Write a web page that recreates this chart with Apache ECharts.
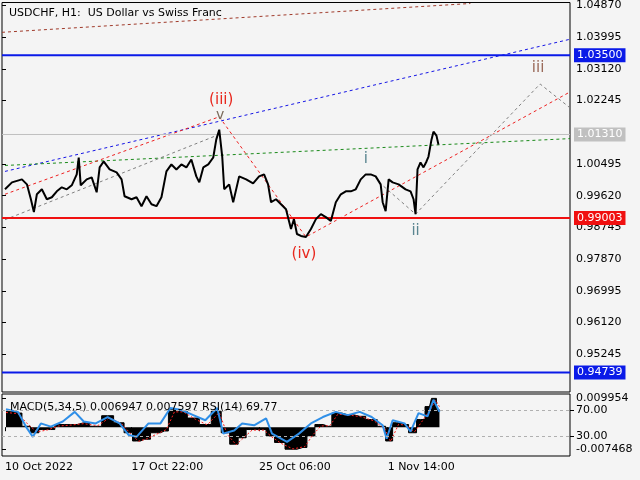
<!DOCTYPE html>
<html>
<head>
<meta charset="utf-8">
<script src="https://cdn.jsdelivr.net/npm/echarts@6/dist/echarts.min.js"></script>
<style>
  html, body { margin: 0; padding: 0; background: #f4f4f4; }
  #chart { width: 640px; height: 480px; }
</style>
</head>
<body>
<div id="chart"></div>
<script>
// price path, [bar position, close]
const price = [[3,.99797],[10,.99989],[20,1.00072],[25,.99934],[29,.99523],[32,.99167],[35,.99660],[40,.99797],[45,.99523],[50,.99578],[55,.99742],[60,.99852],[65,.99797],[70,.99907],[75,1.00209],[77,1.00675],[79,.99907],[85,1.00072],[90,1.00126],[95,.99715],[98,1.00401],[102,1.00566],[108,1.00346],[115,1.00264],[120,1.00072],[123,.99605],[130,.99523],[135,.99578],[140,.99331],[145,.99605],[150,.99386],[155,.99331],[160,.99578],[165,1.00291],[170,1.00483],[175,1.00346],[180,1.00483],[185,1.00401],[190,1.00620],[195,1.00154],[198,.99989],[202,1.00401],[207,1.00483],[212,1.00675],[215,1.01168],[218,1.01442],[221,1.00702],[223,.99797],[228,.99934],[232,.99441],[238,1.00154],[245,1.00072],[252,.99962],[258,1.00154],[263,1.00209],[267,.99934],[270,.99441],[275,.99523],[280,.99386],[285,.99249],[290,.98701],[293,.98975],[296,.98564],[300,.98509],[305,.98482],[310,.98701],[315,.98975],[320,.99112],[325,.99030],[330,.98920],[335,.99441],[340,.99660],[345,.99742],[350,.99742],[355,.99797],[360,1.00072],[365,1.00209],[370,1.00209],[375,1.00154],[380,.99934],[382,.99441],[385,.99194],[388,1.00072],[392,.99989],[398,.99934],[405,.99797],[410,.99742],[413,.99523],[415,.99112],[417,1.00346],[420,1.00537],[423,1.00401],[426,1.00566],[428,1.00702],[431,1.01168],[433,1.01388],[436,1.01278],[438,1.01031]];

// trend / wave lines
const blueTrend = [[3,1.00291],[570,1.03938]];
const greenTrend = [[3,1.00455],[570,1.01196]];
const brownTrend = [[0,1.04130],[470,1.04925]];
const redWave = [[3,.99660],[218,1.01799],[305,.98482],[570,1.02484]];
const grayWaveA = [[3,.98957],[218,1.01311]];
const grayWaveB = [[383,.99880],[415,.99112],[540,1.02704],[570,1.02046]];

// horizontal levels
const levels = [
  { value: 1.0350, color: '#0a1ae8', width: 2 },
  { value: 1.0131, color: '#c0c0c0', width: 1 },
  { value: 0.99003, color: '#f01010', width: 2 },
  { value: 0.94739, color: '#0a1ae8', width: 2 }
];

const waveLabels = [
  {name:'(iii)', value:[220,1.02265], color:'#e8281e', size:15},
  {name:'v', value:[219,1.01830], color:'#7a6a5a', size:14},
  {name:'(iv)', value:[303,.98015], color:'#e8281e', size:15},
  {name:'i', value:[365,1.00620], color:'#5a8590', size:15},
  {name:'ii', value:[415,.98646], color:'#5a8590', size:15},
  {name:'iii', value:[538,1.03143], color:'#9a6a5a', size:15}
];

const priceTicks = [0.95245,0.96120,0.96995,0.97870,0.98745,0.99620,1.00495,1.02245,1.03120,1.03995,1.04870];

// indicator panel
const macdHist = [[4,.0054],[16,.0048],[24,.0003],[33,-.0019],[41,-.0008],[49,-.0008],[57,.0009],[69,.0009],[82,.0015],[94,.0003],[106,.0039],[118,.0015],[127,-.0019],[135,-.0047],[143,-.0041],[155,-.0019],[163,-.0013],[171,.0059],[180,.0054],[192,.0031],[204,.0009],[216,.0054],[224,-.0019],[233,-.0058],[241,-.0036],[249,-.0008],[261,-.0008],[269,-.0030],[278,-.0052],[290,-.0075],[302,-.0069],[310,-.0030],[318,.0009],[327,.0003],[335,.0048],[347,.0042],[359,.0037],[371,.0026],[382,.0003],[388,-.0047],[396,.0015],[404,.0009],[412,-.0019],[420,.0026],[429,.0070],[433,.0098],[439,.0059]];
const macdSignal = [[4,.0050],[16,.0046],[26,.0010],[35,-.0016],[45,-.0010],[57,.0004],[69,.0007],[82,.0012],[96,.0005],[108,.0032],[120,.0012],[129,-.0022],[137,-.0048],[145,-.0040],[157,-.0021],[165,-.0008],[173,.0052],[182,.0052],[194,.0027],[206,.0008],[218,.0050],[226,-.0024],[235,-.0060],[243,-.0034],[251,-.0010],[263,-.0010],[271,-.0034],[280,-.0055],[292,-.0074],[304,-.0066],[312,-.0026],[320,.0004],[329,.0005],[337,.0044],[349,.0041],[361,.0035],[373,.0022],[384,-.0004],[390,-.0049],[398,.0010],[406,.0006],[414,-.0016],[422,.0022],[431,.0066],[435,.0092],[439,.0070]];
const rsi = [[4,72],[16,68],[24,45],[31,29],[39,50],[49,45],[61,53],[73,68],[82,53],[94,50],[106,60],[118,50],[127,32],[135,29],[147,50],[159,50],[169,74],[180,71],[192,63],[204,55],[216,74],[222,34],[233,39],[241,50],[253,47],[265,58],[271,34],[286,21],[298,34],[310,50],[322,60],[335,68],[347,63],[359,68],[371,60],[382,47],[386,26],[392,55],[404,50],[410,37],[418,66],[427,61],[433,87],[439,68]];

const dateTicks = [3,130,258,387];
const dateLabels = ['10 Oct 2022','17 Oct 22:00','25 Oct 06:00','1 Nov 14:00'];

const FONT = 'DejaVu Sans';
const chart = echarts.init(document.getElementById('chart'));

function dotted(data, color) {
  return {
    type: 'line', data, xAxisIndex: 0, yAxisIndex: 0, symbol: 'none', silent: true,
    lineStyle: { color, width: 1, type: [3, 3] }, z: 3
  };
}

// level line as its own two-point series, with the price box on the axis
function levelSeries(l) {
  return {
    type: 'line', data: [[0, l.value], [570, l.value]], xAxisIndex: 0, yAxisIndex: 0,
    symbol: 'none', silent: true, z: 4,
    lineStyle: { color: l.color, width: l.width },
    endLabel: {
      show: true, formatter: l.value.toFixed(5), color: '#fff', backgroundColor: l.color,
      padding: [2, 3, 1, 3], fontFamily: FONT, fontSize: 11, distance: 4
    }
  };
}

chart.setOption({
  backgroundColor: '#f4f4f4',
  animation: false,
  title: [
    { text: 'USDCHF, H1:  US Dollar vs Swiss Franc', left: 4, top: 3,
      textStyle: { fontFamily: FONT, fontSize: 11, fontWeight: 'normal', color: '#000' } },
    { text: 'MACD(5,34,5) 0.006947 0.007597 RSI(14) 69.77', left: 5, top: 397,
      textStyle: { fontFamily: FONT, fontSize: 11, fontWeight: 'normal', color: '#000' } }
  ],
  grid: [
    { left: 2, top: 2, width: 568, height: 390, show: true, borderColor: '#000', borderWidth: 1, backgroundColor: 'transparent' },
    { left: 2, top: 394, width: 568, height: 62, show: true, borderColor: '#000', borderWidth: 1, backgroundColor: 'transparent' }
  ],
  xAxis: [
    { type: 'value', gridIndex: 0, min: 0, max: 570, show: false },
    { type: 'value', gridIndex: 1, min: 0, max: 570, position: 'bottom',
      axisLine: { show: false }, splitLine: { show: false },
      axisTick: { show: true, customValues: dateTicks, length: 4, lineStyle: { color: '#000' } },
      axisLabel: { customValues: dateTicks, align: 'left', margin: 6, fontFamily: FONT, fontSize: 11, color: '#000',
        formatter: v => dateLabels[dateTicks.indexOf(v)] || '' } }
  ],
  yAxis: [
    { type: 'value', gridIndex: 0, position: 'right', min: 0.94203, max: 1.04952,
      axisLine: { show: false }, splitLine: { show: false },
      axisTick: { show: true, customValues: priceTicks, length: 4, lineStyle: { color: '#000' } },
      axisLabel: { customValues: priceTicks, margin: 6, fontFamily: FONT, fontSize: 11, color: '#000',
        formatter: v => v.toFixed(5) } },
    { type: 'value', gridIndex: 1, position: 'right', min: -0.00981, max: 0.01129,
      axisLine: { show: false }, splitLine: { show: false },
      axisTick: { show: true, customValues: [0.009954, -0.007468], length: 4, lineStyle: { color: '#000' } },
      axisLabel: { customValues: [0.009954, -0.007468], margin: 6, fontFamily: FONT, fontSize: 11, color: '#000',
        formatter: v => v.toFixed(6) } },
    { type: 'value', gridIndex: 1, position: 'right', min: -1, max: 96,
      axisLine: { show: false }, splitLine: { show: false },
      axisTick: { show: true, customValues: [70, 30], length: 4, lineStyle: { color: '#000' } },
      axisLabel: { customValues: [70, 30], margin: 6, fontFamily: FONT, fontSize: 11, color: '#000',
        formatter: v => v.toFixed(2) } }
  ],
  series: [
    dotted(brownTrend, '#a03a2a'),
    dotted(blueTrend, '#1515e6'),
    dotted(greenTrend, '#1a8a1a'),
    dotted(redWave, '#ee2020'),
    dotted(grayWaveA, '#808080'),
    dotted(grayWaveB, '#808080'),
    ...levels.map(levelSeries),
    {
      type: 'line', data: price, xAxisIndex: 0, yAxisIndex: 0, symbol: 'none', z: 5,
      lineStyle: { color: '#000', width: 2 }
    },
    {
      type: 'scatter', xAxisIndex: 0, yAxisIndex: 0, symbolSize: 1, z: 6, silent: true,
      itemStyle: { opacity: 0 },
      data: waveLabels.map(d => ({
        name: d.name, value: d.value,
        label: { show: true, position: 'inside', formatter: d.name, color: d.color, opacity: 1,
          textBorderWidth: 0, fontSize: d.size, fontFamily: FONT }
      }))
    },
    {
      type: 'line', data: macdHist, xAxisIndex: 1, yAxisIndex: 1, symbol: 'none', step: 'middle',
      lineStyle: { color: '#000', width: 1 }, areaStyle: { color: '#000', opacity: 1, origin: 0 }
    },
    {
      type: 'line', data: macdSignal, xAxisIndex: 1, yAxisIndex: 1, symbol: 'none',
      lineStyle: { color: '#ff2020', width: 1, type: [2, 2] }
    },
    {
      type: 'line', data: rsi, xAxisIndex: 1, yAxisIndex: 2, symbol: 'none',
      lineStyle: { color: '#2f8fe8', width: 2 },
      markLine: {
        symbol: 'none', silent: true, label: { show: false },
        lineStyle: { color: '#b0b0b0', width: 1, type: [3, 3] },
        data: [{ yAxis: 70 }, { yAxis: 30 }]
      }
    }
  ]
});
</script>
</body>
</html>
